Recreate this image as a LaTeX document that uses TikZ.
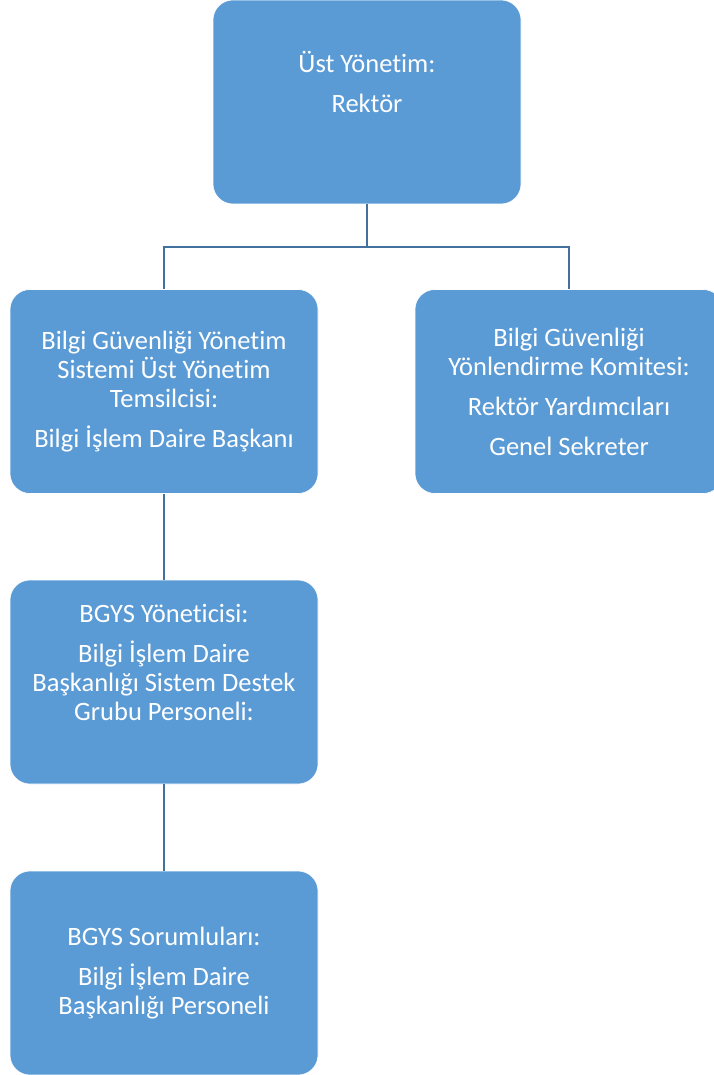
\documentclass[tikz,border=0pt]{standalone}
\usepackage{fontspec}
\setmainfont{Carlito}[Ligatures=NoCommon]
\usepackage{tikz}
\usetikzlibrary{positioning}
\definecolor{kutu}{HTML}{5B9BD5}
\definecolor{cizgi}{HTML}{41719C}

\begin{document}
\begin{tikzpicture}
    [x=1pt,y=-1pt,every node/.style={draw=white, line width=0.6pt, fill=kutu, text=white, rounded corners=20pt, minimum width=308pt, minimum height=204pt, inner sep=0pt, align=center, font=\fontsize{26.5}{29}\selectfont},
    baglanti/.style={draw=cizgi, line width=2pt}]
    \useasboundingbox (0,0) rectangle (713,1075);
    \node (rektor) at (367,102) {Üst Yönetim:\\[11pt]Rektör\\[11pt]~};
    \node (temsilci) at (164,391.5) {Bilgi Güvenliği Yönetim\\Sistemi Üst Yönetim\\Temsilcisi:\\[11pt]Bilgi İşlem Daire Başkanı};
    \node (komite) at (569,391.5) {Bilgi Güvenliği\\Yönlendirme Komitesi:\\[11pt]Rektör Yardımcıları\\[11pt]Genel Sekreter};
    \node (yonetici) at (164,682) {BGYS Yöneticisi:\\[11pt]Bilgi İşlem Daire\\Başkanlığı Sistem Destek\\Grubu Personeli:\\[11pt]~};
    \node (sorumlu) at (164,973) {BGYS Sorumluları:\\[11pt]Bilgi İşlem Daire\\Başkanlığı Personeli};

    \draw[baglanti] (rektor.south) -- ++(0,43) -| (temsilci.north);
    \draw[baglanti] (rektor.south) -- ++(0,43) -| (komite.north);
    \foreach \from/\to in {temsilci/yonetici, yonetici/sorumlu}
    \draw[baglanti] (\from) -- (\to);
\end{tikzpicture}
\end{document}
